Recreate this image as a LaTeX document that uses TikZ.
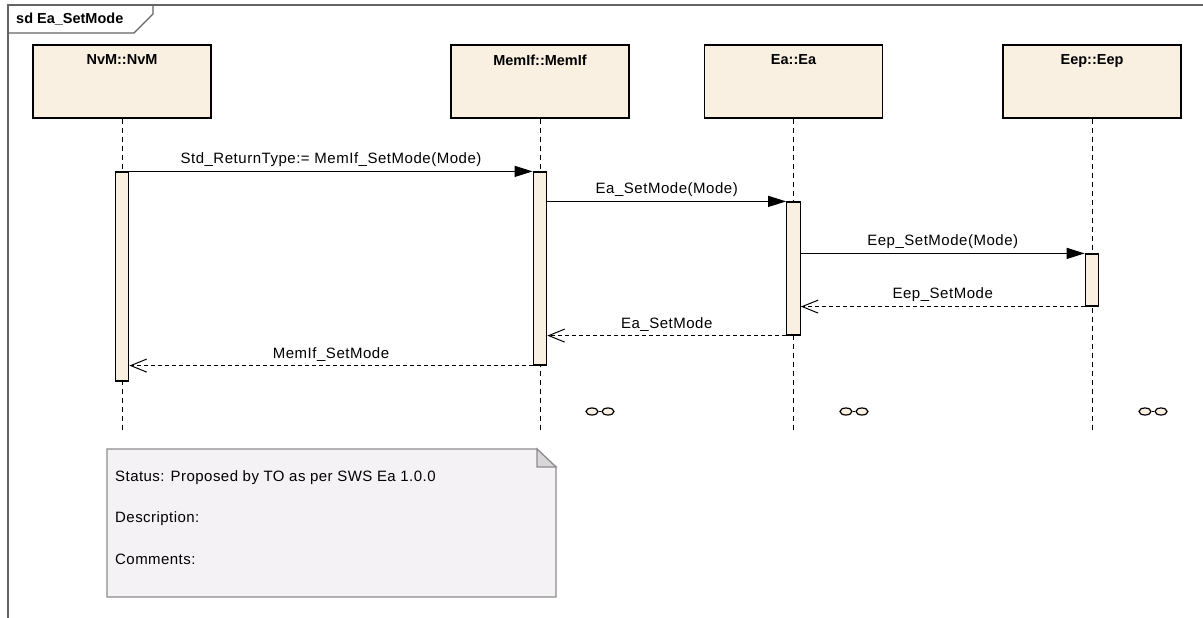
\documentclass[tikz,border=0pt]{standalone}
\usepackage{fontspec}
\setmainfont{Liberation Sans}
\newfontfamily\lblfamily{Liberation Sans}[LetterSpace=3.5]
\newfontfamily\notefamily{Liberation Sans}[LetterSpace=3]
\usetikzlibrary{arrows.meta,shapes.geometric}
\definecolor{lifefill}{RGB}{250,240,226}
\definecolor{notefill}{RGB}{245,242,246}
\definecolor{framegray}{RGB}{100,100,100}
\definecolor{notegray}{RGB}{140,140,140}
\definecolor{eargray}{RGB}{215,215,215}
\tikzset{
  lbl/.style={font=\lblfamily\fontsize{15}{17}\selectfont, inner sep=1pt},
  notetxt/.style={font=\notefamily\fontsize{15}{17}\selectfont, inner sep=1pt},
  bold/.style={font=\fontsize{14.5}{16}\selectfont\bfseries, inner sep=1pt},
  head/.style={draw=black, line width=1.4pt, fill=lifefill, minimum width=178pt, minimum height=73pt, inner sep=0pt},
  act/.style={draw=black, line width=1.2pt, fill=lifefill, minimum width=13.5pt, inner sep=0pt},
  lifeline/.style={draw=black, line width=1pt, dash pattern=on 5pt off 4pt},
  callmsg/.style={draw=black, line width=1.1pt, -{Triangle[length=18pt,width=11pt]}},
  retmsg/.style={draw=black, line width=1pt, dash pattern=on 4pt off 3pt, -{Straight Barb[length=16pt,width=13pt,line width=1pt]}},
  frameline/.style={draw=framegray, line width=1.4pt},
  ell/.style={ellipse, draw=black, line width=1.2pt, fill=lifefill, minimum width=12pt, minimum height=7pt, inner sep=0pt},
}
\begin{document}
\begin{tikzpicture}[x=1pt,y=-1pt]
\useasboundingbox (0,0) rectangle (1203,618);
\fill[white] (0,0) rectangle (1203,618);
% frame
\draw[frameline] (8,618) -- (8,5) -- (1203,5);
\draw[frameline] (8,33) -- (134,33) -- (153,14) -- (153,5);
\node[bold, anchor=west] (title) at (15,19) {sd Ea\_SetMode};
% lifeline heads
\node[head] (nvm) at (122,81.5) {};
\node[head] (mem) at (540,81.5) {};
\node[head] (ea) at (793.5,81.5) {};
\node[head] (eep) at (1092,81.5) {};
\node[bold, anchor=north] (nvmt) at ([yshift=-9pt]nvm.north) {NvM::NvM};
\node[bold, anchor=north] (memt) at ([yshift=-9pt]mem.north) {MemIf::MemIf};
\node[bold, anchor=north] (eat) at ([yshift=-9pt]ea.north) {Ea::Ea};
\node[bold, anchor=north] (eept) at ([yshift=-9pt]eep.north) {Eep::Eep};
% lifeline ends
\coordinate (nvmend) at (122,432);
\coordinate (memend) at (540,432);
\coordinate (eaend) at (793.5,432);
\coordinate (eepend) at (1092,432);
\draw[lifeline] (nvm.south) -- (nvmend);
\draw[lifeline] (mem.south) -- (memend);
\draw[lifeline] (ea.south) -- (eaend);
\draw[lifeline] (eep.south) -- (eepend);
% activations
\node[act, minimum height=209pt] (nvmact) at (122,276.5) {};
\node[act, minimum height=193pt] (memact) at (540,268.5) {};
\node[act, minimum height=133pt] (eaact) at (793.5,268.5) {};
\node[act, minimum height=52pt] (eepact) at (1092,280) {};
% messages
\draw[callmsg] (nvmact.north east) -- (memact.north west)
  node[lbl, midway, above, yshift=3pt] {Std\_ReturnType:= MemIf\_SetMode(Mode)};
\draw[callmsg] (memact.east |- eaact.north) -- (eaact.north west)
  node[lbl, midway, above, yshift=3pt] {Ea\_SetMode(Mode)};
\draw[callmsg] (eaact.east |- eepact.north) -- (eepact.north west)
  node[lbl, midway, above, yshift=3pt] {Eep\_SetMode(Mode)};
\draw[retmsg] (eepact.south west) -- (eaact.east |- eepact.south)
  node[lbl, midway, above, yshift=3pt] {Eep\_SetMode};
\draw[retmsg] (eaact.south west) -- (memact.east |- eaact.south)
  node[lbl, midway, above, yshift=3pt] {Ea\_SetMode};
\draw[retmsg] (memact.south west) -- (nvmact.east |- memact.south)
  node[lbl, midway, above, yshift=3pt] {MemIf\_SetMode};
% small symbols
\node[ell] (s1a) at (592,411.5) {};
\node[ell] (s1b) at (608,411.5) {};
\draw[line width=1.2pt] (s1a) -- (s1b);
\node[ell] (s2a) at (846,411.5) {};
\node[ell] (s2b) at (862,411.5) {};
\draw[line width=1.2pt] (s2a) -- (s2b);
\node[ell] (s3a) at (1145,411.5) {};
\node[ell] (s3b) at (1161,411.5) {};
\draw[line width=1.2pt] (s3a) -- (s3b);
% note
\draw[draw=notegray, line width=1.2pt, fill=notefill]
  (107,449) -- (537,449) -- (556,467) -- (556,597) -- (107,597) -- cycle;
\draw[draw=notegray, line width=1.2pt, fill=eargray]
  (537,449) -- (537,467) -- (556,467) -- cycle;
\node[notetxt, anchor=west] (n1) at (114,478) {Status: Proposed by TO as per SWS Ea 1.0.0};
\node[notetxt, anchor=west] (n2) at (114,519) {Description:};
\node[notetxt, anchor=west] (n3) at (114,559) {Comments:};
\end{tikzpicture}
\end{document}
